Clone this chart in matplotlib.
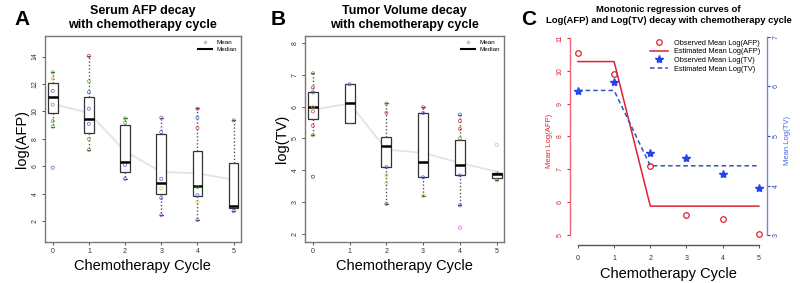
import matplotlib
matplotlib.use("Agg")
import matplotlib.pyplot as plt
from matplotlib.lines import Line2D

plt.rcParams['font.family'] = ['Liberation Sans', 'DejaVu Sans']

cycles = [0, 1, 2, 3, 4, 5]

# box statistics (log AFP)
afp_q1 = [9.88, 8.46, 5.59, 3.98, 3.88, 3.0]
afp_med = [11.02, 9.46, 6.29, 4.80, 4.56, 3.12]
afp_q3 = [12.07, 11.02, 9.02, 8.39, 7.10, 6.22]
afp_lo = [8.9, 7.22, 5.12, 2.44, 2.1, 2.73]
afp_hi = [12.88, 14.07, 9.49, 9.56, 10.24, 9.37]
afp_mean = [10.55, 9.9, 7.1, 5.6, 5.5, 5.03]
afp_est = [10.28, 10.28, 5.88, 5.88, 5.88, 5.88]

afp_pts = [[12.85, 12.4, 11.5, 10.5, 9.3, 8.9, 5.9],
           [14.05, 12.2, 11.4, 10.2, 9.1, 8.0, 7.2],
           [9.5, 9.2, 6.1, 5.1],
           [9.55, 8.5, 5.1, 4.4, 3.7, 2.45],
           [10.2, 9.55, 8.8, 4.5, 3.9, 3.4, 2.1],
           [9.35, 2.75]]
afp_pt_col = [['#44aa22', '#ddaa22', '#3355cc', '#777777', '#44aa22', '#44aa22', '#3355cc'],
              ['#cc2233', '#44aa22', '#3355cc', '#3355cc', '#3355cc', '#44aa22', '#44aa22'],
              ['#44aa22', '#44aa22', '#3355cc', '#3355cc'],
              ['#8844aa', '#3355cc', '#3355cc', '#cccc33', '#3355cc', '#8844aa'],
              ['#cc2233', '#3355cc', '#cc2233', '#44aa22', '#3355cc', '#cccc33', '#8844aa'],
              ['#8844aa', '#3355cc']]

# box statistics (log TV)
tv_q1 = [5.6, 5.5, 4.1, 3.78, 3.84, 3.76]
tv_med = [6.0, 6.1, 4.75, 4.26, 4.18, 3.9]
tv_q3 = [6.45, 6.7, 5.05, 5.8, 4.95, 3.93]
tv_lo = [5.1, 5.5, 2.95, 3.2, 2.9, 3.7]
tv_hi = [7.05, 6.7, 6.1, 5.98, 5.75, 3.93]
tv_mean = [5.9, 6.1, 4.65, 4.55, 4.23, 3.96]
tv_est = [5.92, 5.92, 4.40, 4.40, 4.40, 4.40]

tv_pts = [[7.05, 6.6, 6.45, 6.0, 5.85, 5.4, 5.1, 3.8],
          [6.7],
          [6.1, 5.8, 4.1, 3.85, 3.6, 2.95],
          [5.98, 5.8, 3.78, 3.2],
          [5.75, 5.55, 5.3, 5.0, 3.84, 2.9, 2.2],
          [4.8, 3.7]]
tv_pt_col = [['#44aa22', '#cc2233', '#3355cc', '#cccc33', '#cc2233', '#cc2233', '#44aa22', '#333333'],
             ['#3355cc'],
             ['#44aa22', '#cc2233', '#3355cc', '#cccc33', '#cccc33', '#8844aa'],
             ['#cc2233', '#3355cc', '#3355cc', '#99bb22'],
             ['#3355cc', '#cc2233', '#cc2233', '#44aa22', '#3355cc', '#8844aa', '#cc55cc'],
             ['#bbbbbb', '#44aa22']]


def box_panel(ax, q1, med, q3, lo, hi, mean, pts, cols, title, ylab, yticks, ylim):
    stats = []
    for i in range(len(cycles)):
        stats.append(dict(med=med[i], q1=q1[i], q3=q3[i], whislo=lo[i], whishi=hi[i], fliers=[]))
    ax.plot(cycles, mean, color='#e3e3e3', lw=1.3, zorder=1)
    ax.plot(cycles, mean, ls='none', marker='+', ms=3, color='#bbbbbb', zorder=1)
    ax.bxp(stats, positions=cycles, widths=0.27, showfliers=False, patch_artist=True,
           boxprops=dict(facecolor='white', edgecolor='#333333', lw=0.9),
           medianprops=dict(color='black', lw=1.8),
           whiskerprops=dict(color='#555555', lw=1, ls=(0, (1, 1.5))),
           capprops=dict(color='#555555', lw=0.8), capwidths=0.08, zorder=2)
    for i, c in enumerate(cycles):
        ax.scatter([c] * len(pts[i]), pts[i], s=5, facecolors='none', edgecolors=cols[i],
                   linewidths=0.6, alpha=0.75, zorder=3)
    ax.set_xlim(-0.22, 5.2)
    ax.set_ylim(*ylim)
    ax.set_xticks(cycles)
    ax.set_yticks(yticks)
    ax.tick_params(labelsize=5, length=2.5, width=0.6, colors='#333333', pad=2)
    for lab in ax.get_yticklabels():
        lab.set_rotation(90)
        lab.set_va('center')
    for s in ax.spines.values():
        s.set_color('#777777')
        s.set_linewidth(1)
    ax.set_title(title, fontsize=9, fontweight='bold', pad=6, linespacing=1.15)
    ax.set_xlabel('Chemotherapy Cycle', fontsize=10.5, labelpad=3)
    ax.set_ylabel(ylab, fontsize=10.5, labelpad=2)
    handles = [Line2D([], [], ls='none', marker='+', ms=3, color='#bbbbbb'),
               Line2D([], [], color='black', lw=1.5)]
    ax.legend(handles, ['Mean', 'Median'], loc='upper right', fontsize=4.5, frameon=False,
              handlelength=2.2, borderaxespad=0.2, labelspacing=0.3)


fig = plt.figure(figsize=(8, 2.83), dpi=100)

axA = fig.add_axes([0.056, 0.145, 0.245, 0.728])
box_panel(axA, afp_q1, afp_med, afp_q3, afp_lo, afp_hi, afp_mean, afp_pts, afp_pt_col,
          'Serum AFP decay\nwith chemotherapy cycle', 'log(AFP)', [2, 4, 6, 8, 10, 12, 14], (0.5, 15.5))

axB = fig.add_axes([0.381, 0.145, 0.249, 0.728])
box_panel(axB, tv_q1, tv_med, tv_q3, tv_lo, tv_hi, tv_mean, tv_pts, tv_pt_col,
          'Tumor Volume decay\nwith chemotherapy cycle', 'log(TV)', [2, 3, 4, 5, 6, 7, 8], (1.75, 8.22))

# panel C
red = '#dd2233'
blue = '#2244ee'
axC = fig.add_axes([0.7125, 0.134, 0.246, 0.739])
axC2 = axC.twinx()
axC.set_xlim(-0.22, 5.22)
axC.set_ylim(4.695, 11.06)
axC2.set_ylim(2.8, 7.02)

lA1, = axC.plot(cycles, afp_mean, ls='none', marker='o', ms=4, mfc='none', mec=red, mew=0.9)
lA2, = axC.plot(cycles, afp_est, color=red, lw=1.1)
lT1, = axC2.plot(cycles, tv_mean, ls='none', marker='*', ms=6, color=blue)
lT2, = axC2.plot(cycles, tv_est, color='#3355bb', lw=1.1, ls=(0, (3, 2)))

for a in (axC, axC2):
    a.spines['top'].set_visible(False)
axC.spines['right'].set_visible(False)
axC2.spines['left'].set_visible(False)
axC2.spines['bottom'].set_visible(False)
axC.spines['left'].set_color('#ee6677')
axC.spines['left'].set_bounds(5, 11)
axC2.spines['right'].set_color('#7788cc')
axC2.spines['right'].set_bounds(3, 7)
axC.spines['bottom'].set_bounds(0, 5)
axC.spines['bottom'].set_color('#555555')
for s in (axC.spines['left'], axC2.spines['right'], axC.spines['bottom']):
    s.set_linewidth(1)

axC.set_xticks(cycles)
axC.set_yticks([5, 6, 7, 8, 9, 10, 11])
axC2.set_yticks([3, 4, 5, 6, 7])
axC.tick_params(axis='x', labelsize=5, length=2.5, width=0.6, colors='#333333', pad=5)
axC.tick_params(axis='y', labelsize=5, length=2.5, width=0.8, colors=red, pad=2)
axC2.tick_params(axis='y', labelsize=5, length=2.5, width=0.8, colors='#3344aa', pad=2)
for lab in axC.get_yticklabels() + axC2.get_yticklabels():
    lab.set_rotation(90)
    lab.set_va('center')
axC.set_ylabel('Mean Log(AFP)', fontsize=5.5, color=red, labelpad=3)
axC2.set_ylabel('Mean Log(TV)', fontsize=5.5, color='#4466dd', labelpad=3)
axC.set_xlabel('Chemotherapy Cycle', fontsize=10.5, labelpad=3)
axC.set_title('Monotonic regression curves of\nLog(AFP) and Log(TV) decay with chemotherapy cycle',
              fontsize=6.8, fontweight='bold', pad=9, linespacing=1.35)
axC2.legend([lA1, lA2, lT1, lT2],
            ['Observed Mean Log(AFP)', 'Estimated Mean Log(AFP)',
             'Observed Mean Log(TV)', 'Estimated Mean Log(TV)'],
            loc='upper right', fontsize=5.3, frameon=False, handlelength=2.4,
            borderaxespad=0.1, labelspacing=0.2, bbox_to_anchor=(0.985, 1.0))

# panel letters
fig.text(0.018, 0.965, 'A', fontsize=15, fontweight='bold', va='top')
fig.text(0.338, 0.965, 'B', fontsize=15, fontweight='bold', va='top')
fig.text(0.652, 0.965, 'C', fontsize=15, fontweight='bold', va='top')

fig.savefig('out.png', dpi=100)
